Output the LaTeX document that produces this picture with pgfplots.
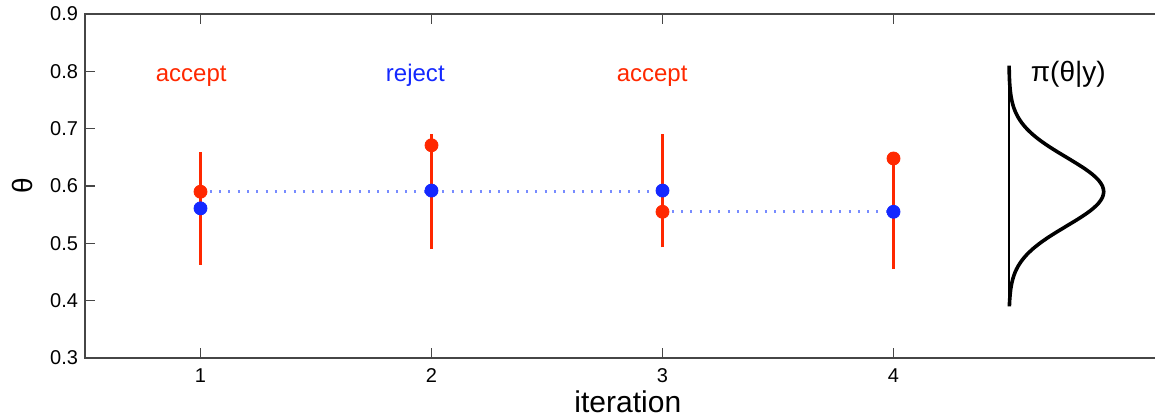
\documentclass[border=0pt]{standalone}
\usepackage{pgfplots}
\pgfplotsset{compat=1.18}
\usepackage{fontspec}
\setmainfont{Liberation Sans}
\definecolor{mred}{RGB}{255,40,0}
\definecolor{mblue}{RGB}{20,40,255}
\definecolor{mdot}{RGB}{120,140,255}
\definecolor{axgray}{RGB}{70,70,70}
\begin{document}
\begin{tikzpicture}
\begin{axis}[
  scale only axis, width=542.85pt, height=172pt,
  xmin=0.5, xmax=5.2, ymin=0.3, ymax=0.9,
  xtick={1,2,3,4}, ytick={0.3,0.4,0.5,0.6,0.7,0.8,0.9},
  tick align=inside, xtick pos=both, ytick pos=left,
  major tick length=5pt,
  axis line style={axgray, line width=1.2pt},
  tick style={axgray, line width=0.8pt},
  /pgf/number format/assume math mode=true,
  yticklabel style={/pgf/number format/.cd, fixed, fixed zerofill, precision=1, /tikz/.cd, font=\fontsize{10}{12}\selectfont},
  xticklabel style={font=\fontsize{10}{12}\selectfont, anchor=base, yshift=-12.5pt},
  xlabel={iteration},
  xlabel style={at={(axis description cs:0.5,0)}, anchor=base, yshift=-27.5pt, font=\fontsize{15}{17}\selectfont},
  ylabel={θ},
  ylabel style={at={(axis description cs:0,0.5)}, anchor=center, yshift=31.5pt, font=\fontsize{14}{16}\selectfont},
]
% proposal ranges
\addplot[mred, line width=1.5pt] coordinates {(1,0.463) (1,0.66)};
\addplot[mred, line width=1.5pt] coordinates {(2,0.49) (2,0.69)};
\addplot[mred, line width=1.5pt] coordinates {(3,0.493) (3,0.69)};
\addplot[mred, line width=1.5pt] coordinates {(4,0.455) (4,0.648)};
% chain path
\addplot[mdot, line width=1.3pt, dash pattern=on 1pt off 3.65pt] coordinates {(1,0.59) (3,0.59)};
\addplot[mdot, line width=1.3pt, dash pattern=on 1pt off 3.65pt] coordinates {(3,0.555) (4,0.555)};
% proposals (red) and current (blue)
\addplot[only marks, mark=*, mark size=3.25pt, color=mred] coordinates {(1,0.59) (2,0.671) (3,0.555) (4,0.648)};
\addplot[only marks, mark=*, mark size=3.25pt, color=mblue] coordinates {(1,0.561) (2,0.592) (3,0.592) (4,0.555)};
% posterior density
\addplot[black, line width=1.2pt] coordinates {(4.5,0.39) (4.5,0.81)};
\addplot[black, line width=1.8pt, smooth] coordinates {
(4.5016,0.39) (4.5027,0.40) (4.5046,0.41) (4.5074,0.42) (4.5117,0.43) (4.5180,0.44)
(4.5269,0.45) (4.5392,0.46) (4.5555,0.47) (4.5764,0.48) (4.6023,0.49) (4.6331,0.50)
(4.6686,0.51) (4.7076,0.52) (4.7487,0.53) (4.7897,0.54) (4.8283,0.55) (4.8618,0.56)
(4.8878,0.57) (4.9043,0.58) (4.9100,0.59) (4.9043,0.60) (4.8878,0.61) (4.8618,0.62)
(4.8283,0.63) (4.7897,0.64) (4.7487,0.65) (4.7076,0.66) (4.6686,0.67) (4.6331,0.68)
(4.6023,0.69) (4.5764,0.70) (4.5555,0.71) (4.5392,0.72) (4.5269,0.73) (4.5180,0.74)
(4.5117,0.75) (4.5074,0.76) (4.5046,0.77) (4.5027,0.78) (4.5016,0.79) (4.5009,0.80)
(4.5005,0.81)};
\node[mred, anchor=base, font=\fontsize{12}{14}\selectfont] at (axis cs:0.96,0.782) {accept};
\node[mblue, anchor=base, font=\fontsize{12}{14}\selectfont] at (axis cs:1.93,0.782) {reject};
\node[mred, anchor=base, font=\fontsize{12}{14}\selectfont] at (axis cs:2.955,0.782) {accept};
\node[black, anchor=base west, inner sep=0pt, font=\fontsize{14}{16}\selectfont] at (axis cs:4.593,0.782) {π(θ|y)};
\end{axis}
\pgfresetboundingbox
\path ([shift={(-42.5pt,-29.5pt)}]current axis.south west) rectangle ([shift={(535pt,7pt)}]current axis.north west);
\end{tikzpicture}
\end{document}
